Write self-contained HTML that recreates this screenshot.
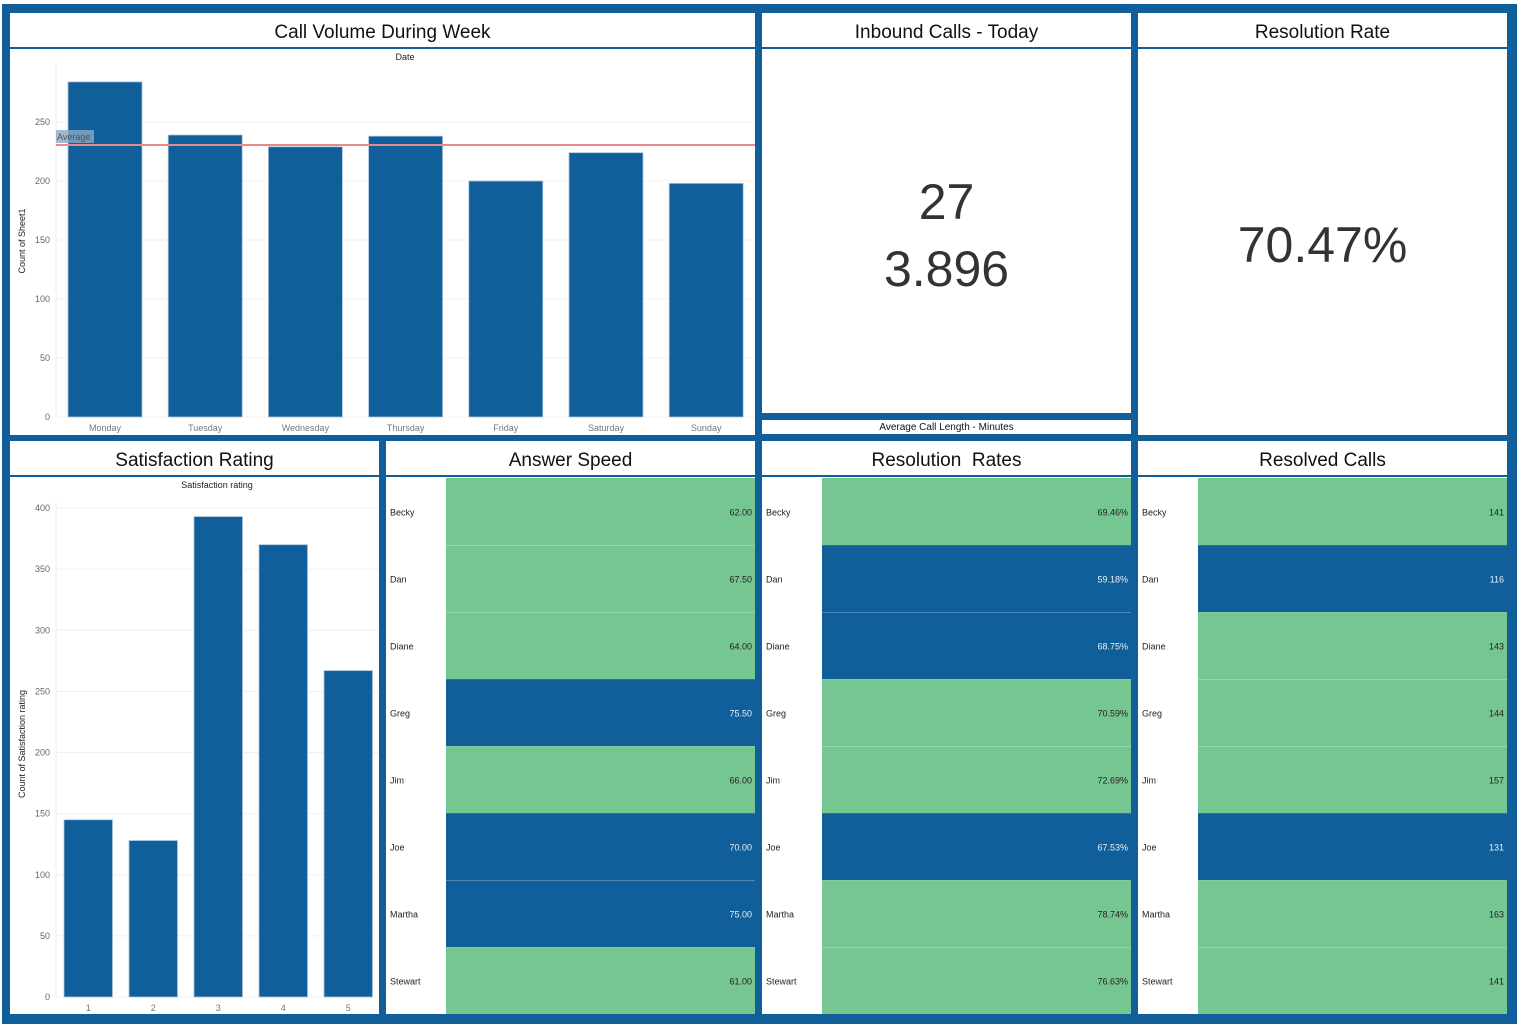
<!DOCTYPE html>
<html><head><meta charset="utf-8"><style>
body{margin:0;width:1517px;height:1024px;overflow:hidden;background:#fff;font-family:"Liberation Sans","DejaVu Sans",sans-serif;}
#frame{position:absolute;left:2px;top:4px;width:1515px;height:1020px;background:#115f9a;}
.panel{position:absolute;background:#fff;}
.title{position:absolute;left:0;right:0;top:0;height:34px;border-bottom:2px solid #115f9a;text-align:center;font-size:19px;line-height:40px;color:#111;}
.big{position:absolute;left:0;right:0;text-align:center;font-size:50px;color:#333;font-weight:300;}
svg text{font-family:"Liberation Sans",sans-serif;}
</style></head><body>
<div id="frame"></div>

<div class="panel" style="left:10px;top:13px;width:745px;height:422px">
<div class="title">Call Volume During Week</div>
<svg id="c1" width="745" height="422" style="position:absolute;left:0;top:0"></svg>
</div>

<div class="panel" style="left:762px;top:13px;width:369px;height:400px">
<div class="title">Inbound Calls - Today</div>
<div class="big" style="top:160px">27</div>
<div class="big" style="top:227px">3.896</div>
</div>
<div class="panel" style="left:762px;top:420px;width:369px;height:14px;font-size:10px;text-align:center;line-height:15px;color:#111">Average Call Length - Minutes</div>

<div class="panel" style="left:1138px;top:13px;width:369px;height:422px">
<div class="title">Resolution Rate</div>
<div class="big" style="top:203px">70.47%</div>
</div>

<div class="panel" style="left:10px;top:441px;width:369px;height:573px">
<div class="title">Satisfaction Rating</div>
<svg id="c2" width="369" height="573" style="position:absolute;left:0;top:0"></svg>
</div>

<div class="panel" style="left:386px;top:441px;width:369px;height:573px">
<div class="title">Answer Speed</div>
<svg id="t1" width="369" height="573" style="position:absolute;left:0;top:0"></svg>
</div>
<div class="panel" style="left:762px;top:441px;width:369px;height:573px">
<div class="title">Resolution&nbsp; Rates</div>
<svg id="t2" width="369" height="573" style="position:absolute;left:0;top:0"></svg>
</div>
<div class="panel" style="left:1138px;top:441px;width:369px;height:573px">
<div class="title">Resolved Calls</div>
<svg id="t3" width="369" height="573" style="position:absolute;left:0;top:0"></svg>
</div>

<script>
const days=["Monday","Tuesday","Wednesday","Thursday","Friday","Saturday","Sunday"];
const dayCounts=[284,239,229,238,200,224,198];
const dayTicks=[0,50,100,150,200,250];
const avgValue=230.5;
const ratings=["1","2","3","4","5"];
const ratingCounts=[145,128,393,370,267];
const ratingTicks=[0,50,100,150,200,250,300,350,400];
const agents=["Becky","Dan","Diane","Greg","Jim","Joe","Martha","Stewart"];
const answerSpeed=[62.00,67.50,64.00,75.50,66.00,70.00,75.00,61.00];
const answerHigh=[0,0,0,1,0,1,1,0];
const resRates=[69.46,59.18,68.75,70.59,72.69,67.53,78.74,76.63];
const resHigh=[0,1,1,0,0,1,0,0];
const resolved=[141,116,143,144,157,131,163,141];
const resolvedHigh=[0,1,0,0,0,1,0,0];

const NS="http://www.w3.org/2000/svg";
const BLUE="#115f9a",GREEN="#76c692";
function mk(svg,tag,attrs,txt){const e=document.createElementNS(NS,tag);for(const k in attrs)e.setAttribute(k,attrs[k]);if(txt!==undefined)e.textContent=txt;svg.appendChild(e);return e;}

function barChart(svg,o){
  const y=v=>o.y0-v*o.scale;
  mk(svg,'text',{x:o.titleX,y:o.titleY,'font-size':9,'text-anchor':'middle',fill:'#222'},o.title);
  o.ticks.forEach(t=>{
    const ln=mk(svg,'line',{x1:o.x0,x2:o.x1,y1:y(t),y2:y(t),stroke:'#f0f0f0'});
    
    
    const tx=mk(svg,'text',{x:o.x0-6,y:y(t)+3,'font-size':9,'text-anchor':'end',fill:'#666'},t);
    
    
  });
  mk(svg,'line',{x1:o.x0,x2:o.x0,y1:o.top,y2:o.y0,stroke:'#eee'});
  const yt=mk(svg,'text',{x:0,y:0,'font-size':9,'text-anchor':'middle',fill:'#222',transform:`translate(${o.ytX},${o.ytY}) rotate(-90)`},o.ytitle);
  
  
  o.cats.forEach((c,i)=>{
    const bx=o.x0+i*o.band+o.pad;
    const r=mk(svg,'rect',{x:bx,y:y(o.vals[i]),width:o.bw,height:o.vals[i]*o.scale,fill:BLUE,stroke:'#a9c4dc','stroke-width':0.8});
    
    
    const l=mk(svg,'text',{x:bx+o.bw/2,y:o.labY,'font-size':9,'text-anchor':'middle',fill:'#777'},c);
    
    
  });
  return y;
}
const c1=document.getElementById('c1');
const y1=barChart(c1,{x0:46,x1:745,y0:404,top:50,scale:1.18,ticks:dayTicks,cats:days,vals:dayCounts,band:100.2,pad:12,bw:74,labY:418,title:'Date',titleX:395,titleY:47,ytitle:'Count of Sheet1',ytX:15,ytY:228});
const al=mk(c1,'line',{x1:46,x2:745,y1:y1(avgValue),y2:y1(avgValue),stroke:'#e88a8a','stroke-width':2});


const ab=mk(c1,'rect',{x:46,y:y1(avgValue)-15,width:38,height:13,fill:'#8aa9c4',opacity:0.8});


const at=mk(c1,'text',{x:47,y:y1(avgValue)-5,'font-size':9,fill:'#555'},'Average');



const c2=document.getElementById('c2');
barChart(c2,{x0:46,x1:369,y0:556,top:60,scale:1.2225,ticks:ratingTicks,cats:ratings,vals:ratingCounts,band:65,pad:8,bw:48.5,labY:570,title:'Satisfaction rating',titleX:207,titleY:47,ytitle:'Count of Satisfaction rating',ytX:15,ytY:303});

function table(id,vals,high,fmt){
  const svg=document.getElementById(id);
  const top=37,rh=67,nameW=60;
  agents.forEach((a,i)=>{
    const ry=top+i*rh;
    const r=mk(svg,'rect',{x:nameW,y:ry,width:369-nameW,height:rh,fill:high[i]?BLUE:GREEN});
    
    
    if(i>0){mk(svg,'line',{x1:nameW,x2:369,y1:ry+0.5,y2:ry+0.5,stroke:high[i]===high[i-1]?'rgba(255,255,255,0.25)':'rgba(255,255,255,0.1)'});}
    const n=mk(svg,'text',{x:4,y:ry+rh/2+4,'font-size':9,fill:'#222'},a);
    
    
    const v=mk(svg,'text',{x:366,y:ry+rh/2+4,'font-size':9,'text-anchor':'end',fill:high[i]?'#e8f0f8':'#222'},fmt(vals[i]));
    
    
  });
}
table('t1',answerSpeed,answerHigh,v=>v.toFixed(2));
table('t2',resRates,resHigh,v=>v.toFixed(2)+'%');
table('t3',resolved,resolvedHigh,v=>String(v));
</script>
</body></html>
